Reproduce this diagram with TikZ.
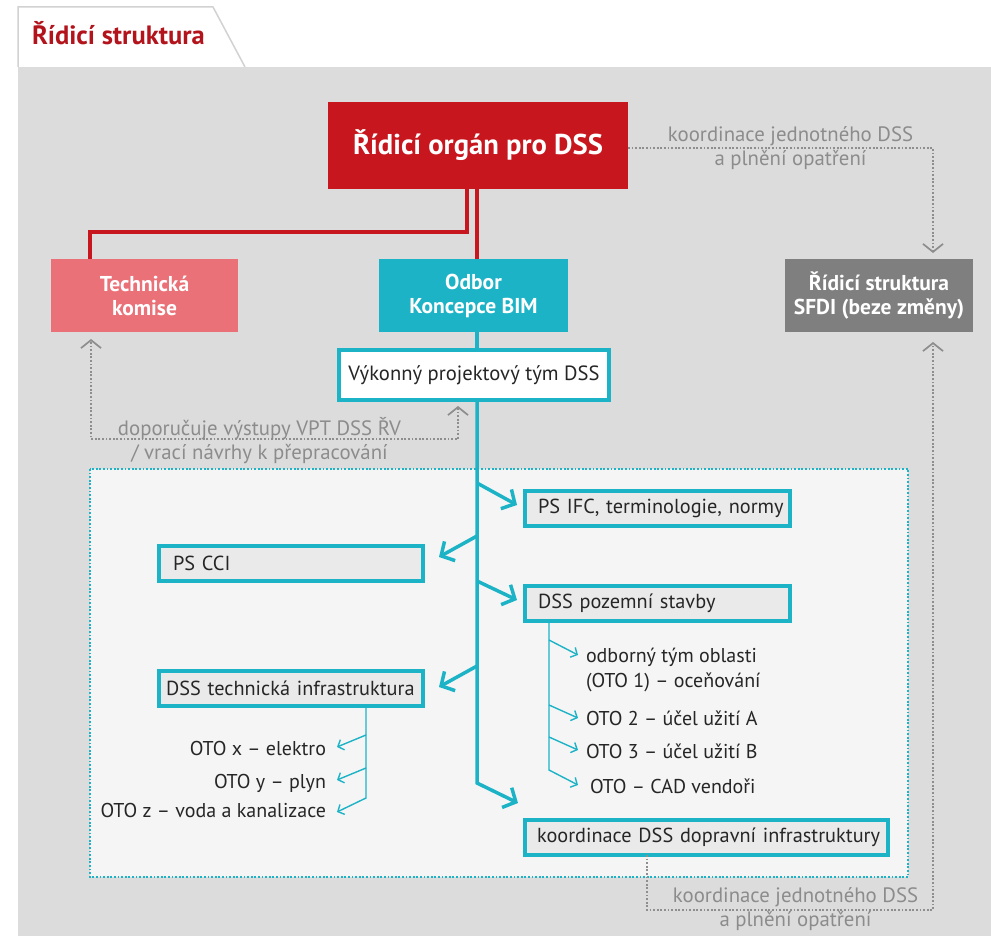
\documentclass[tikz,border=0pt]{standalone}
\usepackage{fontspec}
\setmainfont{PT Sans}
\usetikzlibrary{arrows.meta}
\definecolor{cRed}{HTML}{C8161E}
\definecolor{cTitle}{HTML}{B3141C}
\definecolor{cPink}{HTML}{EB7178}
\definecolor{cTeal}{HTML}{1DB3C7}
\definecolor{cGreyBox}{HTML}{7F7F7F}
\definecolor{cPanel}{HTML}{DCDCDC}
\definecolor{cInner}{HTML}{F5F5F5}
\definecolor{cBoxFill}{HTML}{EAEAEA}
\definecolor{cDot}{HTML}{8E8E8E}
\definecolor{cNote}{HTML}{8C8C8C}
\definecolor{cTxt}{HTML}{262626}
\definecolor{cTab}{HTML}{D2D2D2}
\begin{document}
\begin{tikzpicture}[x=1pt,y=-1pt,
  every node/.style={outer sep=0pt},
  headbox/.style={draw=none, inner sep=0pt, align=center, text=white,
    font=\bfseries\fontsize{21.5}{24}\selectfont, minimum height=73pt},
  lowbox/.style={draw=cTeal, line width=4pt, fill=cBoxFill, text=cTxt,
    font=\fontsize{20.3}{23}\selectfont, inner xsep=13pt, inner ysep=0pt,
    align=left, text width=#1, minimum height=35pt, anchor=west},
  item/.style={text=cTxt, font=\fontsize{20}{25}\selectfont, inner sep=0pt},
  note/.style={text=cNote, font=\fontsize{20.8}{24}\selectfont, inner sep=0pt,
    align=center, anchor=base},
  redln/.style={draw=cRed, line width=3.5pt},
  tealln/.style={draw=cTeal, line width=3.5pt},
  bigarr/.style={draw=cTeal, line width=3.5pt, line join=miter,
    -{Straight Barb[length=10pt,width=22pt]}},
  smallarr/.style={draw=cTeal, line width=1.4pt,
    -{Straight Barb[length=5pt,width=11pt]}},
  dotln/.style={draw=cDot, line width=2pt, dash pattern=on 1.8pt off 1.8pt},
  dotarr/.style={dotln, -{Straight Barb[length=8pt,width=20pt,line width=1.7pt]}},
]
\useasboundingbox (0,0) rectangle (991,936);
\fill[white] (0,0) rectangle (991,936);
% tab and panel
\draw[cTab, line width=1.5pt, fill=white] (18,67) -- (18,7) -- (213,7) -- (245,67);
\fill[cPanel] (18,67) rectangle (991,936);
\node[anchor=base west, inner sep=0pt, text=cTitle,
  font=\bfseries\fontsize{26.5}{30}\selectfont] (title) at (32,45) {Řídicí struktura};
% inner panel
\draw[fill=cInner, draw=cTeal, line width=2.2pt, dash pattern=on 1.8pt off 1.8pt]
  (90,469) rectangle (908,877);

% top nodes
\node[fill=cRed, minimum width=300pt, minimum height=87pt, inner sep=0pt, text=white,
  font=\bfseries\fontsize{28.6}{32}\selectfont] (rob) at (478,145.5) {Řídicí orgán pro DSS};
\node[headbox, fill=cPink, minimum width=187pt] (tk) at (144.5,295.5) {Technická\\komise};
\node[headbox, fill=cTeal, minimum width=189pt] (odbor) at (473.5,295.5) {Odbor\\Koncepce BIM};
\node[headbox, fill=cGreyBox, minimum width=188pt] (sfdi) at (879,295.5) {Řídicí struktura\\SFDI (beze změny)};
\node[draw=cTeal, line width=4pt, fill=white, minimum width=270pt, minimum height=50pt,
  inner sep=0pt, text=cTxt, font=\fontsize{20.6}{23}\selectfont] (vpt) at (474,375) {Výkonný projektový tým DSS};

% lower boxes
\node[lowbox=239pt] (psifc) at (525,508) {\mbox{PS IFC, terminologie, normy}};
\node[lowbox=236pt, inner xsep=14pt] (pscci) at (159,563.5) {\mbox{PS CCI}};
\node[lowbox=250pt, inner xsep=7pt] (dsstech) at (159,688.5) {\mbox{DSS technická infrastruktura}};
\node[lowbox=239pt] (dsspoz) at (525,603) {\mbox{DSS pozemní stavby}};
\node[lowbox=339pt, inner xsep=12pt] (koord) at (525,837.5) {\mbox{koordinace DSS dopravní infrastruktury}};

% items
\node[item, anchor=base west, align=left] (oto1) at (586,687) {odborný tým oblasti\\(OTO 1) – oceňování};
\node[item, anchor=base west] (oto2) at (586,725) {OTO 2 – účel užití A};
\node[item, anchor=base west] (oto3) at (586,758) {OTO 3 – účel užití B};
\node[item, anchor=base west] (oto4) at (590,793) {OTO – CAD vendoři};
\node[item, anchor=base east] (otox) at (326,755) {OTO x – elektro};
\node[item, anchor=base east] (otoy) at (326,788) {OTO y – plyn};
\node[item, anchor=base east] (otoz) at (326,817) {OTO z – voda a kanalizace};

% coordinates
\coordinate (trx) at (477,0);
\coordinate (rj) at (467,232);
\coordinate (tkx) at (90,0);
\coordinate (j1) at (477,483);
\coordinate (j2) at (477,536);
\coordinate (j3) at (477,581);
\coordinate (j4) at (477,666);
\coordinate (j5) at (477,783);
\coordinate (s1) at (549,640);
\coordinate (s2) at (549,705);
\coordinate (s3) at (549,737);
\coordinate (s4) at (549,770);
\coordinate (t1) at (366,735);
\coordinate (t2) at (366,768);
\coordinate (t3) at (366,798);
\coordinate (gx) at (933,0);
\coordinate (gb) at (933,910);
\coordinate (kx) at (647,0);
\coordinate (gl) at (91,439);
\coordinate (vx) at (458,0);

% red connectors
\draw[redln] (rob.south -| rj) -- (rj) -| (tk.north -| tkx);
\draw[redln] (rob.south -| trx) -- (odbor.north -| trx);
\draw[tealln] (odbor.south -| trx) -- (vpt.north -| trx);

% trunk and branches
\draw[bigarr] (vpt.south -| trx) -- (j5) -- ([xshift=-7pt,yshift=17pt]koord.north west);
\draw[bigarr] (j1) -- ([xshift=-8pt,yshift=3pt]psifc.west);
\draw[bigarr] (j2) -- ([xshift=16pt,yshift=6.5pt]pscci.east);
\draw[bigarr] (j3) -- ([xshift=-8pt,yshift=3pt]dsspoz.west);
\draw[bigarr] (j4) -- ([xshift=16pt,yshift=1.5pt]dsstech.east);

% small branches right
\draw[smallarr] (dsspoz.south -| s4) -- (s4) -- ([xshift=-12pt,yshift=8pt]oto4.base west);
\draw[smallarr] (s1) -- ([xshift=-8pt,yshift=32pt]oto1.base west);
\draw[smallarr] (s2) -- ([xshift=-8pt,yshift=7pt]oto2.base west);
\draw[smallarr] (s3) -- ([xshift=-8pt,yshift=8pt]oto3.base west);
% small branches left
\draw[smallarr] (dsstech.south -| t3) -- (t3) -- ([xshift=11pt,yshift=5pt]otoz.base east);
\draw[smallarr] (t1) -- ([xshift=11pt,yshift=8pt]otox.base east);
\draw[smallarr] (t2) -- ([xshift=11pt,yshift=8pt]otoy.base east);

% dotted connectors
\draw[dotarr] ([yshift=-2.5pt]rob.east) -| ([yshift=6pt]sfdi.north -| gx);
\draw[dotarr] (koord.south -| kx) |- (gb) -- ([yshift=-10pt]sfdi.south -| gx);
\draw[dotln, {Straight Barb[length=8pt,width=20pt,line width=1.7pt]}-{Straight Barb[length=8pt,width=20pt,line width=1.7pt]}]
  ([yshift=-6pt]vpt.south -| vx) |- (gl) -- ([yshift=-7pt]tk.south -| gl);

% notes (base anchor = last line baseline)
\node[note] (n1) at (790.5,166) {koordinace jednotného DSS\\a plnění opatření};
\node[note] (n2) at (795.5,926) {koordinace jednotného DSS\\a plnění opatření};
\node[note] (n3) at (259.5,459) {doporučuje výstupy VPT DSS ŘV\\/ vrací návrhy k přepracování};
\end{tikzpicture}
\end{document}
